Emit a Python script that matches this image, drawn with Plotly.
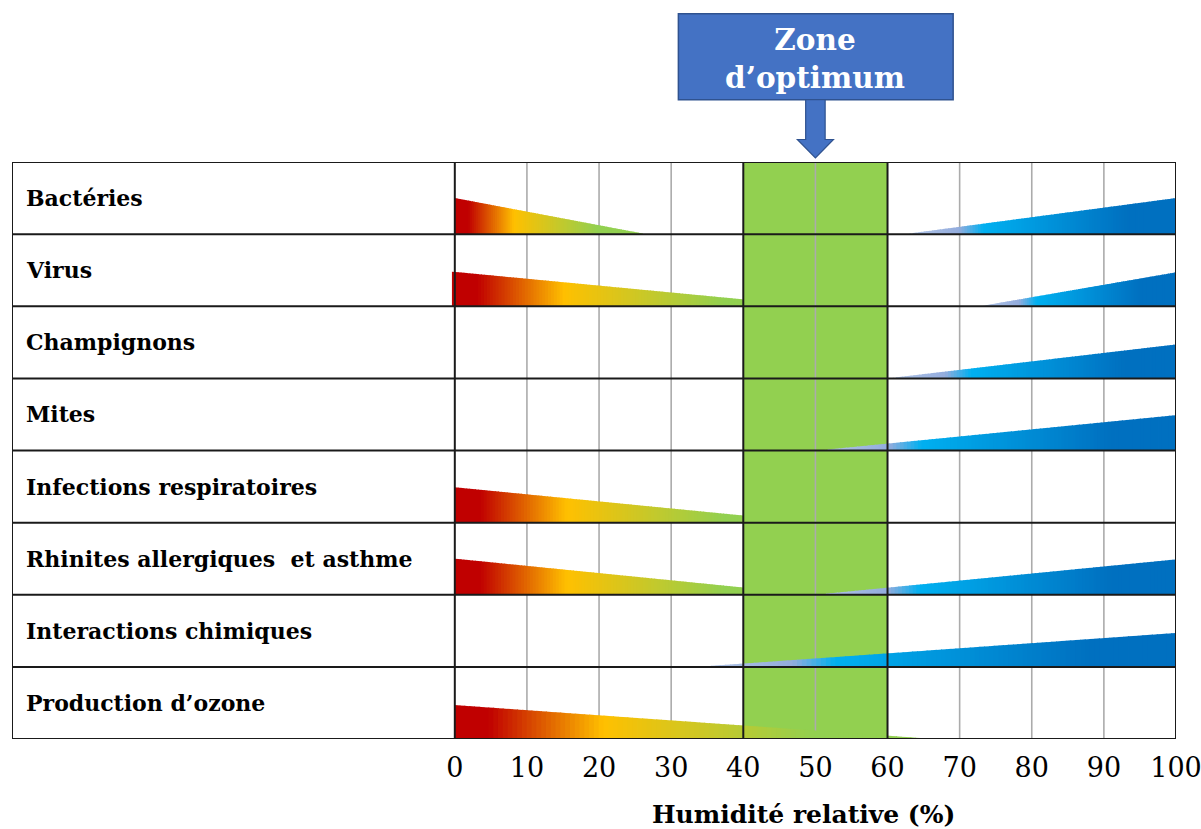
import plotly.graph_objects as go

# ---------------- data ----------------
rows = ["Bactéries", "Virus", "Champignons", "Mites",
        "Infections respiratoires", "Rhinites allergiques\u00a0 et asthme",
        "Interactions chimiques", "Production d’ozone"]

# dry-side risk wedges (red -> yellow -> green), humidity %
red_start = [0, -0.4, None, None, 0, 0, None, 0]
red_apex = [26.5, 50, None, None, 50, 50, None, 66.5]     # where the wedge would reach zero
red_end = [26.5, 40, None, None, 40, 40, None, 66.5]       # visible end
red_height = [0.5, 0.48, None, None, 0.49, 0.5, None, 0.47]  # fraction of row at start

# humid-side risk wedges (light blue -> dark blue), reaching 100 %
blue_start = [62.4, 72.8, 60, 50.3, None, 50, 33.5, None]
blue_height = [0.5, 0.47, 0.47, 0.49, None, 0.49, 0.47, None]

optimum = [40, 60]
xticks = [0, 10, 20, 30, 40, 50, 60, 70, 80, 90, 100]
header_text = "Zone<br>d’optimum"
axis_title = "Humidité relative (%)"

# ---------------- styling ----------------
XMIN, XMAX = -61.4, 100
N = len(rows)
FONT = "DejaVu Serif"
RED_STOPS = [(0, "#C00000"), (0.07, "#C00000"), (0.31, "#FFC000"), (0.75, "#92D050"), (1, "#92D050")]
BLUE_STOPS = [(0, "#B4C7E7"), (0.2, "#93ACDD"), (0.29, "#00B0F0"), (0.82, "#0070C0"), (1, "#0070C0")]
SLICES = 100


def hex2rgb(h):
    h = h.lstrip("#")
    return [int(h[i:i + 2], 16) for i in (0, 2, 4)]


def interp(stops, t):
    t = max(0.0, min(1.0, t))
    for (t0, c0), (t1, c1) in zip(stops[:-1], stops[1:]):
        if t <= t1:
            f = 0 if t1 == t0 else (t - t0) / (t1 - t0)
            a, b = hex2rgb(c0), hex2rgb(c1)
            return "rgb(%d,%d,%d)" % tuple(round(a[k] + (b[k] - a[k]) * f) for k in range(3))
    return stops[-1][1]


def xp(v):
    return (v - XMIN) / (XMAX - XMIN)


fig = go.Figure()


def add_wedge(x0, x1, hfun, tfun, base, stops):
    step = (x1 - x0) / SLICES
    for k in range(SLICES):
        xa = x0 + step * k
        xb = x0 + step * (k + 1)
        if k < SLICES - 1:
            xb = min(x1, xb + 0.12)  # tiny overlap to hide seams
        col = interp(stops, tfun(x0 + step * (k + 0.5)))
        fig.add_trace(go.Scatter(
            x=[xa, xb, xb, xa, xa],
            y=[base, base, base + hfun(xb), base + hfun(xa), base],
            mode="lines", fill="toself", fillcolor=col,
            line=dict(width=0), hoverinfo="skip", showlegend=False))


for i in range(N):
    base = N - 1 - i
    if red_start[i] is not None:
        s, a, e, h = red_start[i], red_apex[i], red_end[i], red_height[i]
        add_wedge(s, e,
                  lambda x, s=s, a=a, h=h: h * (a - x) / (a - s),
                  lambda x, s=s, a=a: (x - s) / (a - s),
                  base, RED_STOPS)
    if blue_start[i] is not None:
        s, h = blue_start[i], blue_height[i]
        add_wedge(s, 100,
                  lambda x, s=s, h=h: h * (x - s) / (100 - s),
                  lambda x, s=s: (x - s) / (100 - s),
                  base, BLUE_STOPS)

shapes = []
# optimum band
shapes.append(dict(type="rect", xref="x", yref="y", x0=optimum[0], x1=optimum[1], y0=0, y1=N,
                   fillcolor="#92D050", line=dict(width=0), layer="below"))
# gray grid
for t in xticks:
    if t in (0, 100) or t in optimum:
        continue
    shapes.append(dict(type="line", xref="x", yref="y", x0=t, x1=t, y0=0, y1=N,
                       line=dict(color="#ABABAB", width=1.6), layer="below"))
# black table lines
for t in [0] + optimum:
    shapes.append(dict(type="line", xref="x", yref="y", x0=t, x1=t, y0=0, y1=N,
                       line=dict(color="#1A1A1A", width=2), layer="above"))
for r in range(1, N):
    shapes.append(dict(type="line", xref="x", yref="y", x0=XMIN, x1=XMAX, y0=r, y1=r,
                       line=dict(color="#1A1A1A", width=2), layer="above"))
shapes.append(dict(type="rect", xref="x", yref="y", x0=XMIN, x1=XMAX, y0=0, y1=N,
                   line=dict(color="#1A1A1A", width=2), fillcolor="rgba(0,0,0,0)", layer="above"))

# header box + arrow (paper coords, derived from data x)
mid = sum(optimum) / 2
shapes.append(dict(type="rect", xref="paper", yref="paper", x0=xp(31), x1=xp(69.1),
                   y0=1.108, y1=1.257, fillcolor="#4472C4", line=dict(color="#2F528F", width=1.5)))
sw, hw = 1.35, 2.5
path = ("M %f,1.108 L %f,1.039 L %f,1.039 L %f,1.007 L %f,1.039 L %f,1.039 L %f,1.108 Z" %
        (xp(mid - sw), xp(mid - sw), xp(mid - hw), xp(mid), xp(mid + hw), xp(mid + sw), xp(mid + sw)))
shapes.append(dict(type="path", xref="paper", yref="paper", path=path,
                   fillcolor="#4472C4", line=dict(color="#2F528F", width=1.2)))

annotations = []
for i, name in enumerate(rows):
    annotations.append(dict(x=-59.8, y=N - 1 - i + 0.5, xref="x", yref="y", text="<b>%s</b>" % name,
                            showarrow=False, xanchor="left", yanchor="middle",
                            font=dict(family=FONT, size=22, color="#000000")))
annotations.append(dict(x=xp(mid), y=1.18, xref="paper", yref="paper", text="<b>%s</b>" % header_text,
                        showarrow=False, xanchor="center", yanchor="middle",
                        font=dict(family=FONT, size=29.5, color="#FFFFFF")))
annotations.append(dict(x=xp(48.3), y=-0.13, xref="paper", yref="paper", text="<b>%s</b>" % axis_title,
                        showarrow=False, xanchor="center", yanchor="middle",
                        font=dict(family=FONT, size=25, color="#000000")))

fig.update_layout(
    width=1201, height=829,
    margin=dict(l=12, r=25, t=162, b=90, autoexpand=False),
    paper_bgcolor="white", plot_bgcolor="white",
    shapes=shapes, annotations=annotations,
    xaxis=dict(range=[XMIN, XMAX], tickvals=xticks, ticktext=[str(t) for t in xticks],
               showgrid=False, zeroline=False, showline=False, ticks="", automargin=False,
               tickfont=dict(family=FONT, size=27, color="#000000"), ticklabelstandoff=10,
               ticklabeloverflow="allow", fixedrange=True),
    yaxis=dict(range=[0, N], showgrid=False, zeroline=False, showline=False, automargin=False,
               showticklabels=False, ticks="", fixedrange=True),
)

# remove the default page margin and scrollbars so the 1201x829 figure fills the window exactly
fig.write_html(
    "out.html",
    config={"displayModeBar": False, "responsive": False},
    post_script=("document.documentElement.style.overflow='hidden';"
                 "document.body.style.margin='0px';"
                 "document.body.style.overflow='hidden';"),
)
